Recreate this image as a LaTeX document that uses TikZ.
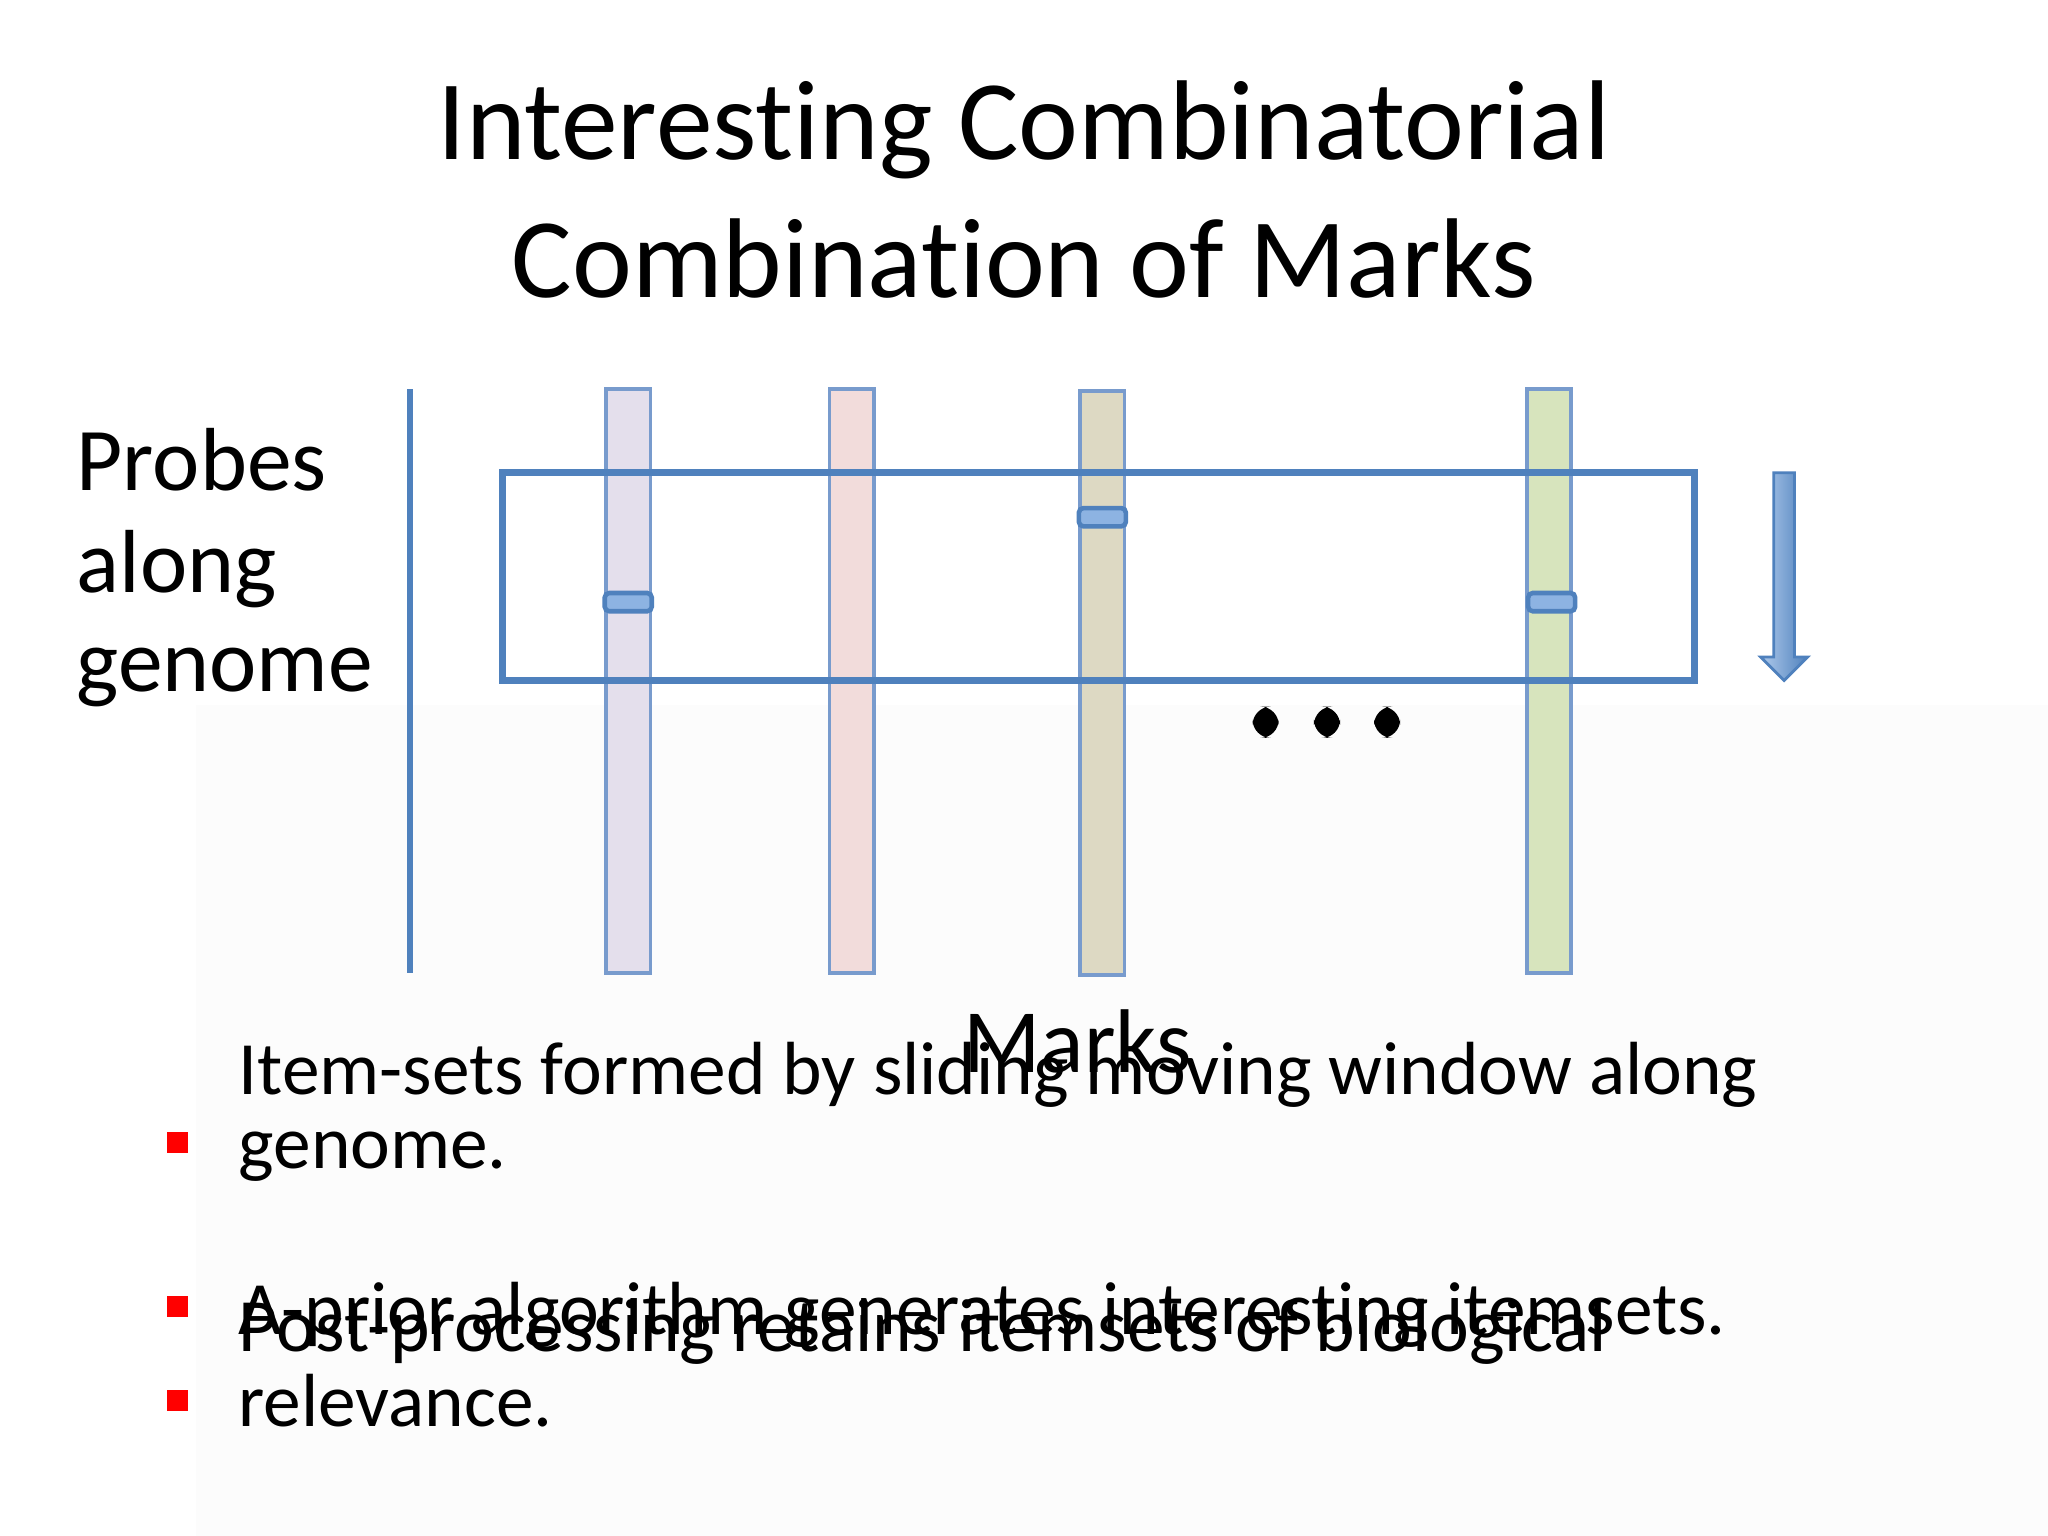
\documentclass[tikz,border=0pt]{standalone}
\usepackage{fontspec}
\setmainfont[RawFeature=-liga]{Carlito}
\definecolor{bl}{RGB}{79,129,189}
\definecolor{cb}{RGB}{120,155,205}
\definecolor{mk}{RGB}{141,179,226}
\begin{document}
\begin{tikzpicture}[x=0.01cm,y=-0.01cm,
  col/.style={draw=cb,line width=0.8pt},
  tick/.style={draw=bl,fill=mk,line width=1pt,rounded corners=1pt},
  txt/.style={anchor=west,inner sep=0pt,font=\fontsize{19.5}{22}\selectfont},
  btxt/.style={anchor=west,inner sep=0pt,font=\fontsize{16.4}{16.2}\selectfont,align=left},
  bul/.style={fill=red,minimum size=0.16cm,inner sep=0pt}]
\useasboundingbox[fill=white] (0,0) rectangle (1568,1176);
\fill[black!1.2] (150,540) rectangle (1568,1176);
\node (t) at (784,145) [align=center,font=\fontsize{24.7}{30}\selectfont,inner sep=0pt] {Interesting Combinatorial\\Combination of Marks};
\coordinate (la) at (314,298); \coordinate (lb) at (314,745);
\draw[bl,line width=1.2pt] (la) -- (lb);
\node[col,fill={rgb,255:red,228;green,223;blue,236},minimum width=0.34cm,minimum height=4.47cm,inner sep=0pt] (c1) at (481,521.5) {};
\node[col,fill={rgb,255:red,242;green,220;blue,219},minimum width=0.34cm,minimum height=4.47cm,inner sep=0pt] (c2) at (652,521.5) {};
\node[col,fill={rgb,255:red,221;green,217;blue,195},minimum width=0.34cm,minimum height=4.47cm,inner sep=0pt] (c3) at (844,523) {};
\node[col,fill={rgb,255:red,215;green,228;blue,189},minimum width=0.34cm,minimum height=4.47cm,inner sep=0pt] (c4) at (1186,521.5) {};
\node[draw=bl,line width=1.6pt,minimum width=9.12cm,minimum height=1.59cm,inner sep=0pt] (w) at (841,441.5) {};
\node[tick,minimum width=0.36cm,minimum height=0.14cm,inner sep=0pt] (m1) at (481,461) {};
\node[tick,minimum width=0.36cm,minimum height=0.14cm,inner sep=0pt] (m3) at (844,396) {};
\node[tick,minimum width=0.36cm,minimum height=0.14cm,inner sep=0pt] (m4) at (1188,461) {};
\draw[draw=bl,line width=0.6pt,left color=mk!70,right color=bl,shading angle=90]
  (1358,362) -- (1374,362) -- (1374,503) -- (1384,503) -- (1366,521) -- (1348,503) -- (1358,503) -- cycle;
\foreach \x/\n in {969/d1,1016/d2,1062/d3}
  \node[fill=black,rounded corners=4pt,minimum width=0.2cm,minimum height=0.24cm,inner sep=0pt] (\n) at (\x,553) {};
\node (marks) at (825,797) [font=\fontsize{19.7}{22}\selectfont,inner sep=0pt] {Marks};
\node[txt] (p1) at (58,352) {Probes};
\node[txt] (p2) at (58,436) {along};
\node[txt] (p3) at (58,519) {genome};
\node[bul] (b1) at (136,875) {};
\node[bul] (b2) at (136,1000) {};
\node[bul] (b3) at (136,1072) {};
\node[btxt,anchor=base west] (x1) at (182,895) {Item-sets formed by sliding moving window along\\genome.};
\node[btxt,anchor=base west] (x2) at (182,1022) {A-prior algorithm generates interesting itemsets.};
\node[btxt,anchor=base west] (x3) at (182,1092) {Post-processing retains itemsets of biological\\relevance.};
\end{tikzpicture}
\end{document}
